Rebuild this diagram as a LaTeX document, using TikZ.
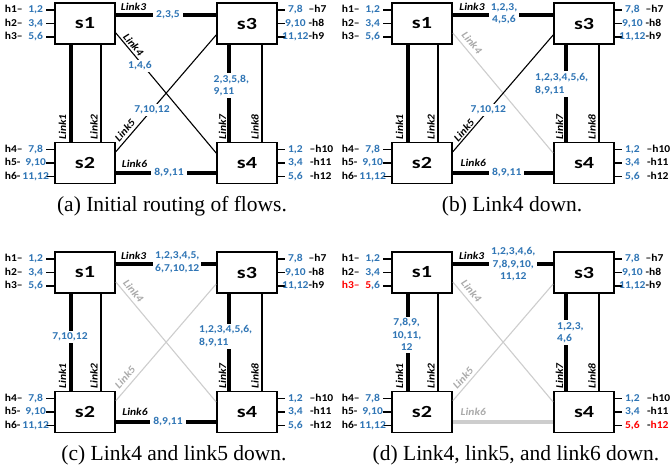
\documentclass[tikz,border=0pt]{standalone}
\usepackage{fontspec}
\newfontfamily\lblfont[FakeStretch=1.1]{Carlito}
\newfontfamily\swfont[FakeStretch=1.3]{Carlito}
\newfontfamily\capfont{Liberation Serif}
\definecolor{fb}{RGB}{47,117,181}
\definecolor{dn}{RGB}{205,205,205}
\definecolor{dntext}{RGB}{170,170,170}
\definecolor{rd}{RGB}{255,0,0}
\tikzset{
  sw/.style={draw, line width=1.7pt, minimum width=60pt, minimum height=41pt, inner sep=0pt,
    font=\swfont\bfseries\fontsize{17}{17}\selectfont},
  thk/.style={line width=4pt},
  thn/.style={line width=1.1pt},
  dnl/.style={line width=1.1pt, draw=dn},
  dnthk/.style={line width=4pt, draw=dn},
  tick/.style={line width=1.5pt},
  host/.style={font=\lblfont\bfseries\fontsize{10.5}{12}\selectfont, inner sep=0pt,
    text height=7.5pt, text depth=2pt},
  hflow/.style={host, text=fb},
  fgap/.style={text=fb, fill=white, font=\lblfont\bfseries\fontsize{10.5}{12.5}\selectfont,
    inner xsep=3pt, inner ysep=2pt},
  lk/.style={font=\lblfont\bfseries\itshape\fontsize{10.5}{12}\selectfont, inner sep=0pt},
  lkd/.style={lk, text=dntext},
  captxt/.style={font=\capfont\fontsize{21.5}{24}\selectfont, anchor=base, inner sep=0pt},
}
\newcommand\switches[1]{%
  \node[sw] (#1s1) at (85,23.5) {s1};
  \node[sw] (#1s3) at (247,23.5) {s3};
  \node[sw] (#1s2) at (85,163) {s2};
  \node[sw] (#1s4) at (247,163) {s4};
}
% #1 switch, #2 yshift, #3 name, #4 host text, #5 flow text
\newcommand\hostL[5]{%
  \coordinate (#3t) at ([yshift=#2]#1.west);
  \draw[tick] (#3t) -- ++(-8,0);
  \node[hflow] (#3f) at ([xshift=-18.5]#3t) {#5};
  \node[host,anchor=west] (#3h) at ([xshift=-49.5]#3t) {#4};
}
% #6 xshift of host text
\newcommand\hostR[6]{%
  \coordinate (#3t) at ([yshift=#2]#1.east);
  \draw[tick] (#3t) -- ++(7,0);
  \node[hflow] (#3f) at ([xshift=17.5]#3t) {#5};
  \node[host,anchor=west] (#3h) at ([xshift=#6]#3t) {#4};
}
\newcommand\hostsstd[1]{%
  \hostL{#1s1}{13.5}{#1h1}{h1–}{1,2}
  \hostL{#1s1}{0}{#1h2}{h2–}{3,4}
  \hostL{#1s2}{13.5}{#1h4}{h4–}{7,8}
  \hostL{#1s2}{0}{#1h5}{h5-}{9,10}
  \hostL{#1s2}{-13.5}{#1h6}{h6-}{11,12}
  \hostR{#1s3}{13.5}{#1h7}{–h7}{7,8}{30.5}
  \hostR{#1s3}{0}{#1h8}{-h8}{9,10}{30.5}
  \hostR{#1s3}{-13.5}{#1h9}{-h9}{11,12}{30.5}
  \hostR{#1s4}{13.5}{#1h10}{–h10}{1,2}{31.5}
  \hostR{#1s4}{0}{#1h11}{-h11}{3,4}{32}
}
\newcommand\verticals[1]{%
  \draw[thk] ([xshift=-14]#1s1.south) -- ([xshift=-14]#1s2.north);
  \draw[thn] ([xshift=16]#1s1.south) -- ([xshift=16]#1s2.north);
  \draw[thk] ([xshift=-18]#1s3.south) -- ([xshift=-18]#1s4.north);
  \draw[thn] ([xshift=15]#1s3.south) -- ([xshift=15]#1s4.north);
  \draw[thk] ([yshift=8.5]#1s1.east) -- ([yshift=8.5]#1s3.west);
}
\newcommand\vlabels[1]{%
  \node[lk,rotate=90] (#1L1) at (62.5,127) {Link1};
  \node[lk,rotate=90] (#1L2) at (94,127) {Link2};
  \node[lk,rotate=90] (#1L7) at (222.5,127) {Link7};
  \node[lk,rotate=90] (#1L8) at (255,127) {Link8};
}
\begin{document}
\begin{tikzpicture}[x=1pt,y=-1pt]
\useasboundingbox (0,0) rectangle (671,473);

% ---------------- (a)
\begin{scope}
\switches{a}
\verticals{a}
\draw[thn] ([yshift=-9.5]as1.east) -- ([yshift=10]as4.west);
\draw[thn] ([yshift=11.3]as2.east) -- ([yshift=-11.5]as3.west);
\draw[thk] ([yshift=-10]as2.east) -- ([yshift=-10]as4.west);
\node[fgap] (af3) at (168,15) {2,3,5};
\node[fgap] (af4) at (140,66) {1,4,6};
\node[fgap] (af5) at (152,110) {7,10,12};
\node[fgap] (af6) at (169,173) {8,9,11};
\node[fgap,anchor=west,align=left,inner xsep=1pt] (af7) at (212.5,85.5) {2,3,5,8,\\9,11};
\vlabels{a}
\node[lk] (aL3) at (133.5,7) {Link3};
\node[lk] (aL6) at (134.5,164) {Link6};
\node[lk,rotate=-49.6] (aL4) at (133.5,44.5) {Link4};
\node[lk,rotate=48.9] (aL5) at (124.8,130.5) {Link5};
\hostsstd{a}
\hostL{as1}{-13.5}{ah3}{h3–}{5,6}
\hostR{as4}{-13.5}{ah12}{-h12}{5,6}{32}
\end{scope}

% ---------------- (b)
\begin{scope}[shift={(337,0)}]
\switches{b}
\verticals{b}
\draw[dnl] ([yshift=-9.5]bs1.east) -- ([yshift=10]bs4.west);
\draw[thn] ([yshift=11.3]bs2.east) -- ([yshift=-11.5]bs3.west);
\draw[thk] ([yshift=-10]bs2.east) -- ([yshift=-10]bs4.west);
\node[fgap,align=center,inner xsep=2pt] (bf3) at (167,13.7) {1,2,3,\\4,5,6};
\node[fgap] (bf5) at (151.3,110) {7,10,12};
\node[fgap] (bf6) at (169.7,172.7) {8,9,11};
\node[fgap,anchor=west,align=left,inner xsep=1pt] (bf7) at (197,84) {1,2,3,4,5,6,\\8,9,11};
\vlabels{b}
\node[lk] (bL3) at (135,7) {Link3};
\node[lk] (bL6) at (136.3,163.3) {Link6};
\node[lkd,rotate=-49.6] (bL4) at (135,42.5) {Link4};
\node[lk,rotate=48.9] (bL5) at (127,130.3) {Link5};
\hostsstd{b}
\hostL{bs1}{-13.5}{bh3}{h3–}{5,6}
\hostR{bs4}{-13.5}{bh12}{-h12}{5,6}{32}
\end{scope}

% ---------------- (c)
\begin{scope}[shift={(0,249)}]
\switches{c}
\verticals{c}
\draw[dnl] ([yshift=-9.5]cs1.east) -- ([yshift=10]cs4.west);
\draw[dnl] ([yshift=11.3]cs2.east) -- ([yshift=-11.5]cs3.west);
\draw[thk] ([yshift=-10]cs2.east) -- ([yshift=-10]cs4.west);
\node[fgap,align=left,inner xsep=2pt] (cf3) at (177.3,13.5) {1,2,3,4,5,\\6,7,10,12};
\node[fgap] (cf1) at (70,87.7) {7,10,12};
\node[fgap] (cf6) at (168,172.7) {8,9,11};
\node[fgap,anchor=west,align=left,inner xsep=1pt] (cf7) at (198,87.2) {1,2,3,4,5,6,\\8,9,11};
\vlabels{c}
\node[lk] (cL3) at (133.7,7) {Link3};
\node[lk] (cL6) at (135,162.7) {Link6};
\node[lkd,rotate=-49.6] (cL4) at (133.5,42) {Link4};
\node[lkd,rotate=48.9] (cL5) at (125,128.5) {Link5};
\hostsstd{c}
\hostL{cs1}{-13.5}{ch3}{h3–}{5,6}
\hostR{cs4}{-13.5}{ch12}{-h12}{5,6}{32}
\end{scope}

% ---------------- (d)
\begin{scope}[shift={(337,249)}]
\switches{d}
\verticals{d}
\draw[dnl] ([yshift=-9.5]ds1.east) -- ([yshift=10]ds4.west);
\draw[dnl] ([yshift=11.3]ds2.east) -- ([yshift=-11.5]ds3.west);
\draw[dnthk] ([yshift=-10]ds2.east) -- ([yshift=-10]ds4.west);
\node[fgap,align=center,inner xsep=2pt,inner ysep=0pt] (df3) at (176.3,15.3) {1,2,3,4,6,\\7,8,9,10,\\11,12};
\node[fgap,align=center,inner xsep=2pt] (df1) at (69.7,85.7) {7,8,9,\\10,11,\\12};
\node[fgap,anchor=west,align=left,inner xsep=1pt] (df7) at (219,83.7) {1,2,3,\\4,6};
\vlabels{d}
\node[lk] (dL3) at (134.7,7) {Link3};
\node[lkd] (dL6) at (136.3,162.7) {Link6};
\node[lkd,rotate=-49.6] (dL4) at (134.5,42) {Link4};
\node[lkd,rotate=48.9] (dL5) at (126,129) {Link5};
\hostsstd{d}
\hostL{ds1}{-13.5}{dh3}{\textcolor{rd}{h3–}}{\textcolor{rd}{5},6}
\hostR{ds4}{-13.5}{dh12}{-\textcolor{rd}{h12}}{\textcolor{rd}{5,6}}{32}
\end{scope}

% captions
\node[captxt] (capa) at (172,211) {(a) Initial routing of flows.};
\node[captxt] (capb) at (512,211) {(b) Link4 down.};
\node[captxt] (capc) at (174,460) {(c) Link4 and link5 down.};
\node[captxt] (capd) at (516,460) {(d) Link4, link5, and link6 down.};
\end{tikzpicture}
\end{document}
